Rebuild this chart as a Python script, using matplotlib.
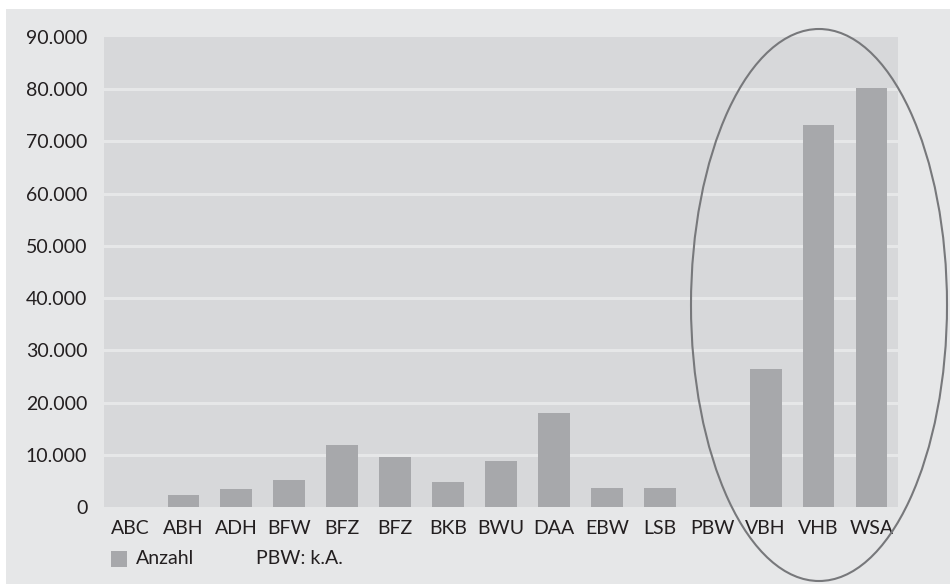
import matplotlib
matplotlib.use("Agg")
from matplotlib import pyplot as plt
from matplotlib.patches import Ellipse, Rectangle

# Anzahl je Einrichtung
kategorien = ["ABC", "ABH", "ADH", "BFW", "BFZ", "BFZ", "BKB", "BWU",
              "DAA", "EBW", "LSB", "PBW", "VBH", "VHB", "WSA"]
anzahl = [0, 2300, 3400, 5200, 11900, 9600, 4800, 8800,
          18000, 3600, 3600, 0, 26400, 73100, 80200]
y_ticks = [0, 10000, 20000, 30000, 40000, 50000, 60000, 70000, 80000, 90000]
y_labels = ["0", "10.000", "20.000", "30.000", "40.000", "50.000",
            "60.000", "70.000", "80.000", "90.000"]

plt.rcParams["font.family"] = ["Lato", "DejaVu Sans"]
text_farbe = "#231f20"
fs = 14

W, H = 950, 584
fig = plt.figure(figsize=(W / 100, H / 100), dpi=100)
fig.patch.set_facecolor("white")

# grauer Hintergrund
fig.patches.append(Rectangle((6 / W, 0), 1 - 6 / W, 1 - 9 / H,
                             transform=fig.transFigure, facecolor="#e6e7e8",
                             edgecolor="none", zorder=-1))

ax = fig.add_axes([104 / W, 1 - 507 / H, 794 / W, 470 / H])
ax.set_zorder(1)
ax.set_facecolor("#d7d8da")
x = range(len(kategorien))
ax.bar(x, anzahl, width=0.6, color="#a7a8ab", zorder=3)
for t in y_ticks[1:-1]:
    ax.axhline(t, color="#e6e7e8", linewidth=2.2, zorder=2)

ax.set_xlim(-0.5, len(kategorien) - 0.5)
ax.set_ylim(0, 90000)
ax.set_yticks(y_ticks)
ax.set_yticklabels(y_labels, fontsize=fs, color=text_farbe)
ax.set_xticks(list(x))
ax.set_xticklabels(kategorien, fontsize=fs, color=text_farbe)
ax.tick_params(axis="y", length=0, pad=12)
ax.tick_params(axis="x", length=0, pad=9)
for s in ax.spines.values():
    s.set_visible(False)

# Legende
fig.patches.append(Rectangle((111 / W, 1 - 567 / H), 16 / W, 16 / H,
                             transform=fig.transFigure, facecolor="#a7a8ab",
                             edgecolor="none", zorder=3))
fig.text(136 / W, 1 - 559 / H, "Anzahl", fontsize=fs, color=text_farbe,
         va="center", ha="left")
fig.text(256 / W, 1 - 559 / H, "PBW: k.A.", fontsize=fs, color=text_farbe,
         va="center", ha="left")

# Markierung der drei größten
fig.patches.append(Ellipse((819 / W, 1 - 305 / H), 256 / W, 552 / H,
                           transform=fig.transFigure, facecolor="none",
                           edgecolor="#77787b", linewidth=1.5, zorder=5))

fig.savefig("out.png", dpi=100)
